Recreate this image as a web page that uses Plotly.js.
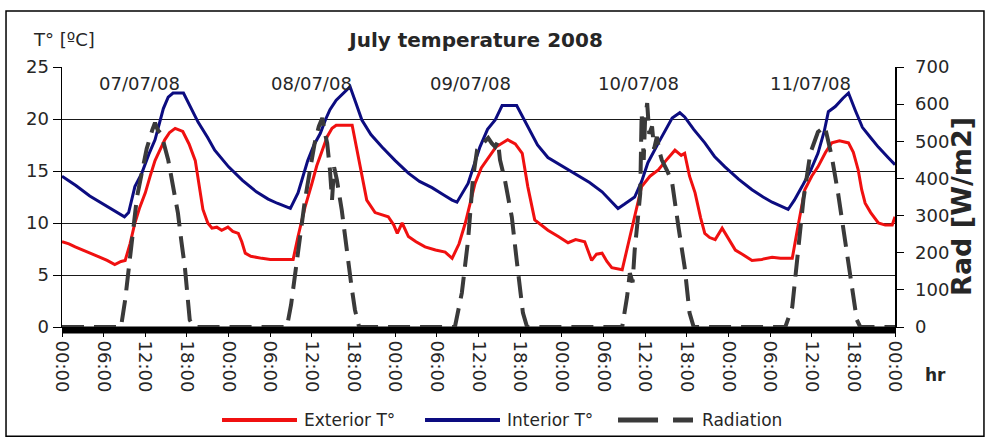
<!DOCTYPE html>
<html>
<head>
<meta charset="utf-8">
<script src="https://cdn.plot.ly/plotly-3.0.1.min.js"></script>
<style>html,body{margin:0;padding:0;background:#fff;}#chart{width:987px;height:438px;}</style>
</head>
<body>
<div id="chart"></div>
<script>
// Hours since 07/07/08 00:00
const TICK_HOURS = [0,6,12,18,24,30,36,42,48,54,60,66,72,78,84,90,96,102,108,114,120];
const TICK_LABELS = ["00:00","06:00","12:00","18:00","00:00","06:00","12:00","18:00","00:00","06:00","12:00","18:00","00:00","06:00","12:00","18:00","00:00","06:00","12:00","18:00","00:00"];
const DAY_LABELS = ["07/07/08","08/07/08","09/07/08","10/07/08","11/07/08"];
const DAY_LABEL_HOURS = [11.2,35.9,58.9,83.1,107.8];
const SERIES_NAMES = ["Exterior T°","Interior T°","Radiation"];

const interiorHours = [0,2,4,6,8,9,9.6,10.5,11.5,12.5,13.4,14,14.6,15.3,16,17.5,18.5,19.6,21,22,24,26,28,29.7,31,32.9,34,35.4,36.3,37.2,38,38.6,39.5,40.5,41.5,42.3,43.2,44.5,46.1,48,49.9,51.5,53.3,55,56.2,56.9,58.5,60.2,61.3,62.4,63.4,65.5,67.1,68.5,70,72,73.9,76,77.8,79,80.1,81,82.5,83.5,84.4,86,87.9,89,89.7,91,92.6,94,95.5,97.5,99.4,101,102.3,104.6,105.5,106.6,107.8,108.9,109.8,110.4,111.4,112.5,113.3,114.3,115.3,116.5,117.6,119,120];
const interiorT = [14.5,13.6,12.6,11.8,11.0,10.6,11.0,13.5,14.8,16.6,18.0,19.5,21.0,22.1,22.5,22.5,21.2,19.7,18.2,17.0,15.4,14.1,13.0,12.3,11.9,11.4,12.9,16.0,17.5,18.6,20.0,20.9,21.8,22.5,23.1,21.6,19.9,18.5,17.3,16.0,14.8,14.0,13.4,12.7,12.2,12.0,13.8,17.3,19.0,19.9,21.3,21.3,19.2,17.5,16.3,15.5,14.8,13.9,13.0,12.2,11.4,11.8,12.5,14.0,15.8,17.8,20.1,20.6,20.2,19.0,17.7,16.4,15.4,14.2,13.2,12.5,12.0,11.3,12.2,13.5,15.0,16.7,18.8,20.7,21.2,22.0,22.5,20.8,19.2,18.2,17.3,16.3,15.6];

const exteriorHours = [0,1,1.9,3,4.3,5.5,6.5,7.6,8.5,9.1,9.8,10.5,11.2,12,12.7,13.4,14.1,14.8,15.5,16.3,17.4,18.3,19.2,19.8,20.3,21,21.6,22.3,23,23.9,24.6,25.4,25.9,26.4,27.2,28.8,30,31.5,33.3,34,35,36,36.7,37.5,38.2,38.9,39.5,41.8,42.6,43.3,43.9,45.1,46,47,47.8,48.3,49,49.9,51,52.3,53.8,55.2,56.2,57.2,58.1,58.8,59.5,60.4,61.4,62.5,64.2,65.3,66.3,67.1,68.1,69,70,71.5,72.9,74,75.3,76.3,77,77.8,78.5,79.2,80.7,81.4,82.1,82.8,83.5,84.7,85.9,87,88.3,89.2,89.7,90.4,91.2,92,92.6,93.3,94.1,95.1,96,97,98,99.4,100.8,102.3,103.5,105.2,106,107,108,108.9,110,110.9,112,113.3,114,114.7,115.2,115.7,116.5,117.6,118.6,119.6,120];
const exteriorT = [8.2,8.0,7.7,7.4,7.1,6.7,6.4,6.0,6.3,6.4,8.0,10.0,11.5,12.9,14.5,16.0,17.0,18.0,18.7,19.1,18.8,17.6,16.0,13.5,11.3,10.0,9.5,9.6,9.3,9.6,9.2,9.0,8.2,7.1,6.8,6.6,6.5,6.5,6.5,8.7,11.5,13.8,15.5,17.0,18.3,19.1,19.4,19.4,16.7,14.0,12.2,11.0,10.8,10.6,9.8,9.0,10.0,8.7,8.2,7.7,7.4,7.2,6.6,8.0,10.0,12.0,13.8,15.3,16.3,17.3,18.0,17.6,16.7,13.5,10.3,9.8,9.3,8.7,8.1,8.4,8.2,6.4,7.0,7.1,6.3,5.7,5.5,7.5,9.6,11.5,13.5,14.5,15.1,16.0,17.0,16.5,16.7,14.5,12.9,10.5,9.0,8.6,8.4,9.5,8.5,7.4,7.0,6.4,6.5,6.7,6.6,6.6,9.6,13.2,14.5,15.4,16.8,17.7,17.9,17.7,16.8,15.1,13.2,11.9,11.0,10.0,9.8,9.8,10.6];

const radiationHours = [0,8.5,9.1,9.6,10.2,10.8,11.5,12.2,13,13.4,13.8,14.3,15.3,16,16.7,17.2,17.7,18.1,18.4,19,32.4,33,33.6,34.3,35,35.7,36.4,37,37.5,37.9,38.2,38.6,38.9,39.2,39.6,40.3,40.7,41.2,41.7,42.2,42.8,56.6,57.6,58.5,59.2,59.8,60.5,61.4,61.9,62.4,62.8,63.1,63.8,64.3,64.8,65.5,66,66.4,67,80.7,81.4,81.8,82.2,82.5,83,83.3,83.5,83.8,84,84.3,84.6,85,85.3,85.7,86.1,86.4,87.2,87.9,88.8,89.7,90.4,91,104.2,105.2,105.9,106.8,107.8,108.9,109.9,110.9,111.8,112.8,113.8,114.5,115,120];
const radiation = [0,0,73,160,270,350,415,480,530,550,530,520,450,380,307,230,161,80,19,0,0,60,145,245,342,420,495,540,563,520,495,423,342,430,396,315,250,180,110,46,0,0,92,234,400,477,490,509,495,485,500,450,396,340,296,180,100,38,0,0,81,145,120,207,300,360,576,450,560,603,520,540,480,512,470,450,420,388,270,161,38,0,0,54,180,342,468,525,540,458,360,242,108,19,0,0];

const FONT = "DejaVu Sans, Verdana, sans-serif";
const TXT = "#262626";
const COLORS = ["#f01010", "#0c0c80", "#3a3a3a"];
const RAD_DASH = "22px,10px";

const traces = [
  {x: exteriorHours, y: exteriorT, name: SERIES_NAMES[0], type: "scatter", mode: "lines",
   line: {color: COLORS[0], width: 3}},
  {x: interiorHours, y: interiorT, name: SERIES_NAMES[1], type: "scatter", mode: "lines",
   line: {color: COLORS[1], width: 3}},
  {x: radiationHours, y: radiation, name: SERIES_NAMES[2], type: "scatter", mode: "lines", yaxis: "y2",
   line: {color: COLORS[2], width: 4, dash: RAD_DASH}}
];

const annotations = DAY_LABELS.map((t, i) => ({
  text: t, x: DAY_LABEL_HOURS[i], y: 23.4, xref: "x", yref: "y",
  showarrow: false, font: {family: FONT, size: 18, color: TXT}
}));
annotations.push(
  {text: "T° [ºC]", xref: "paper", yref: "paper", x: 0.0024, y: 1.104, xanchor: "center", yanchor: "middle",
   showarrow: false, font: {family: FONT, size: 18, color: TXT}},
  {text: "<b>Rad [W/m2]</b>", xref: "paper", yref: "paper", x: 1.079, y: 0.465, textangle: -90,
   xanchor: "center", yanchor: "middle", showarrow: false, font: {family: FONT, size: 27, color: TXT}},
  {text: "<b>hr</b>", xref: "paper", yref: "paper", x: 1.049, y: -0.185, xanchor: "center", yanchor: "middle",
   showarrow: false, font: {family: FONT, size: 17, color: TXT}}
);

// Legend drawn as in the original (long 75px swatches), positions in paper units
const LEG_Y = -0.3577;
const legendItems = [
  {x0: 0.1921, x1: 0.2821, tx: 0.2881, dash: "solid", w: 4},
  {x0: 0.4358, x1: 0.5258, tx: 0.5318, dash: "solid", w: 4},
  {x0: 0.6675, x1: 0.7575, tx: 0.7659, dash: "40px,15px", w: 5}
];
const shapes = [
  {type: "rect", xref: "paper", yref: "paper", x0: 0, x1: 1, y0: -0.025, y1: 0.002,
   fillcolor: "#000", line: {width: 0}, layer: "below"},
  {type: "rect", xref: "paper", yref: "paper", x0: -0.0672, x1: 1.1068, y0: -0.42, y1: 1.2154,
   line: {color: "#000", width: 1.5}, fillcolor: "rgba(0,0,0,0)"}
];
legendItems.forEach((it, i) => {
  shapes.push({type: "line", xref: "paper", yref: "paper", x0: it.x0, x1: it.x1, y0: LEG_Y, y1: LEG_Y,
               line: {color: COLORS[i], width: it.w, dash: it.dash}});
  annotations.push({text: SERIES_NAMES[i], xref: "paper", yref: "paper", x: it.tx, y: LEG_Y,
                    xanchor: "left", yanchor: "middle", showarrow: false,
                    font: {family: FONT, size: 17, color: TXT}});
});

const layout = {
  width: 987, height: 438,
  margin: {l: 62, r: 92, t: 67, b: 111},
  paper_bgcolor: "#ffffff", plot_bgcolor: "#ffffff",
  title: {text: "<b>July temperature 2008</b>", x: 0.497, xref: "paper", y: 0.909, yref: "container",
          xanchor: "center", yanchor: "middle", font: {family: FONT, size: 20, color: TXT}},
  showlegend: false,
  xaxis: {range: [0, 120], tickmode: "array", tickvals: TICK_HOURS, ticktext: TICK_LABELS,
          tickangle: 90, ticks: "outside", ticklen: 9, tickcolor: "#000", tickwidth: 1,
          showline: true, linecolor: "#000", linewidth: 1, showgrid: false, zeroline: false,
          tickfont: {family: FONT, size: 18, color: TXT}, fixedrange: true},
  yaxis: {range: [0, 25], dtick: 5, tick0: 0, ticks: "outside", ticklen: 8, tickcolor: "#000",
          showline: true, linecolor: "#000", linewidth: 1.5, showgrid: true, gridcolor: "#1a1a1a", gridwidth: 1,
          zeroline: false, tickfont: {family: FONT, size: 18, color: TXT}},
  yaxis2: {range: [0, 700], dtick: 100, tick0: 0, overlaying: "y", side: "right", ticks: "outside",
           ticklen: 7, tickcolor: "#000", showline: true, linecolor: "#000", linewidth: 1.5,
           ticklabelstandoff: 8,
           showgrid: false, zeroline: false, tickfont: {family: FONT, size: 18, color: TXT}},
  annotations: annotations,
  shapes: shapes
};

Plotly.newPlot("chart", traces, layout, {displayModeBar: false, staticPlot: true});
</script>
</body>
</html>
